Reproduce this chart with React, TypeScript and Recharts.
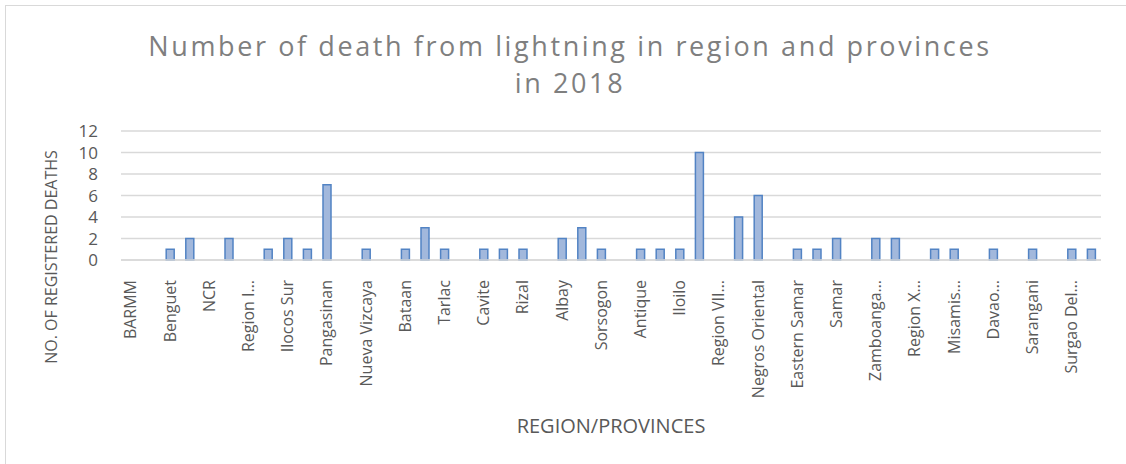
import React from "react";
import { BarChart, Bar, XAxis, YAxis, CartesianGrid, Label } from "recharts";

// categories (only every other one gets a label on the axis)
const provinces = [
  "BARMM", "Maguindanao", "Benguet", "Ifugao", "NCR", "Quezon City",
  "Region I…", "Ilocos Norte", "Ilocos Sur", "La Union", "Pangasinan", "Cagayan",
  "Nueva Vizcaya", "Region III", "Bataan", "Bulacan", "Tarlac", "Region IV-A",
  "Cavite", "Laguna", "Rizal", "Region V", "Albay", "Camarines Sur",
  "Sorsogon", "Region VI", "Antique", "Capiz", "Iloilo", "Negros Occidental",
  "Region VII…", "Cebu", "Negros Oriental", "Region VIII", "Eastern Samar", "Leyte",
  "Samar", "Region IX", "Zamboanga…", "Zamboanga del Sur", "Region X…", "Bukidnon",
  "Misamis…", "Region XI", "Davao…", "Region XII", "Sarangani", "Caraga",
  "Surgao Del…", "Surigao del Sur",
];

const deaths = [
  0, 0, 1, 2, 0, 2, 0, 1, 2, 1,
  7, 0, 1, 0, 1, 3, 1, 0, 1, 1,
  1, 0, 2, 3, 1, 0, 1, 1, 1, 10,
  0, 4, 6, 0, 1, 1, 2, 0, 2, 2,
  0, 1, 1, 0, 1, 0, 1, 0, 1, 1,
];

const yTicks = [0, 2, 4, 6, 8, 10, 12];

const titleLines = ["Number of death from lightning in region and provinces", "in 2018"];

const chartData = provinces.map((name, i) => ({ name, deaths: deaths[i] }));

const FONT = "'Open Sans', sans-serif";
const GREY = "#595959";

function RotatedTick(props: any) {
  const { x, y, payload } = props;
  return (
    <text
      x={x}
      y={y + 12}
      dy="0.35em"
      textAnchor="end"
      transform={`rotate(-90, ${x}, ${y + 12})`}
      fill={GREY}
      fontSize={16}
      fontFamily={FONT}
    >
      {payload.value}
    </text>
  );
}

export default function App() {
  return (
    <div
      style={{
        position: "fixed",
        left: 0,
        top: 0,
        width: 1126,
        height: 464,
        background: "#fff",
        overflow: "hidden",
        fontFamily: FONT,
      }}
    >
      {/* chart frame, only top/left edges visible */}
      <div
        style={{
          position: "absolute",
          left: 5,
          top: 5,
          width: 1140,
          height: 480,
          border: "1.5px solid #d9d9d9",
        }}
      />
      {titleLines.map((line, i) => (
        <div
          key={line}
          style={{
            position: "absolute",
            left: 0,
            top: 27 + i * 37,
            width: 1140,
            height: 37,
            textAlign: "center",
            color: "#7f7f7f",
            fontSize: 27,
            letterSpacing: 2.6,
            lineHeight: "37px",
            whiteSpace: "nowrap",
          }}
        >
          {line}
        </div>
      ))}
      <div
        style={{
          position: "absolute",
          left: 51,
          top: 257,
          transform: "translate(-50%, -50%) rotate(-90deg)",
          whiteSpace: "nowrap",
          color: GREY,
          fontSize: 16,
        }}
      >
        NO. OF REGISTERED DEATHS
      </div>
      <div style={{ position: "absolute", left: 0, top: 0 }}>
        <BarChart
          width={1126}
          height={464}
          data={chartData}
          margin={{ top: 131, right: 25, bottom: 26, left: 0 }}
          barCategoryGap={0}
        >
          <CartesianGrid vertical={false} stroke="#d9d9d9" strokeWidth={1.5} />
          <XAxis
            dataKey="name"
            interval={1}
            height={178}
            tickLine={false}
            axisLine={{ stroke: "#d9d9d9", strokeWidth: 1.5 }}
            tick={<RotatedTick />}
          >
            <Label
              value="REGION/PROVINCES"
              position="insideBottom"
              offset={5}
              fill={GREY}
              fontSize={20}
              fontFamily={FONT}
            />
          </XAxis>
          <YAxis
            width={121}
            domain={[0, 12]}
            ticks={yTicks}
            interval={0}
            axisLine={false}
            tickLine={false}
            tickMargin={17}
            tick={{ fill: GREY, fontSize: 17, fontFamily: FONT }}
          />
          <Bar
            dataKey="deaths"
            barSize={8}
            fill="#a2b8dc"
            stroke="#5283c4"
            strokeWidth={1.5}
            isAnimationActive={false}
          />
        </BarChart>
      </div>
    </div>
  );
}
